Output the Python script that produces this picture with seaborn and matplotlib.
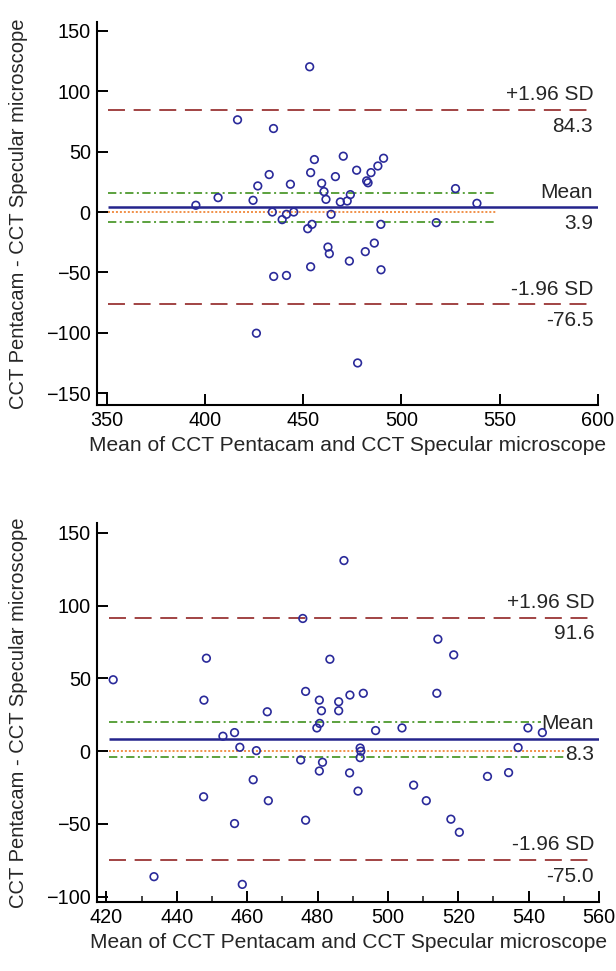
import matplotlib
matplotlib.use("Agg")
import matplotlib.pyplot as plt
import seaborn as sns
import numpy as np
import pandas as pd
from matplotlib.ticker import MultipleLocator

# ---------------- data ----------------
top_mean = [453.3, 416.6, 434.9, 455.7, 470.4, 453.8, 432.7, 466.4, 459.4, 443.5,
            426.9, 460.6, 406.7, 424.5, 461.6, 395.4, 468.9, 472.4, 477.2, 490.9,
            488.0, 484.5, 482.3, 483.0, 474.0, 527.5, 538.4, 434.3, 441.5, 445.2,
            439.3, 464.2, 452.3, 454.5, 489.5, 517.7, 462.6, 463.3, 473.5, 481.6,
            486.2, 489.6, 453.8, 435.0, 441.5, 426.2, 477.7]
top_diff = [120.2, 76.3, 69.1, 43.4, 46.2, 32.6, 31.0, 29.3, 23.8, 23.0,
            21.6, 16.9, 11.9, 9.7, 10.5, 5.6, 8.3, 9.1, 34.6, 44.5,
            38.1, 32.6, 25.8, 24.2, 14.4, 19.4, 7.2, 0.0, -1.9, 0.0,
            -6.3, -1.9, -13.8, -10.2, -10.2, -8.8, -29.0, -34.5, -40.6, -32.8,
            -25.7, -47.8, -45.3, -53.3, -52.5, -100.3, -124.9]

bot_mean = [487.5, 475.8, 448.4, 483.5, 421.9, 447.7, 476.6, 480.5, 486.0, 465.7,
            481.1, 486.0, 489.2, 514.2, 518.7, 513.9, 493.0, 480.6, 479.8, 453.1,
            456.4, 457.9, 462.6, 475.2, 480.5, 481.4, 489.1, 461.7, 447.6, 466.0,
            456.4, 476.6, 433.5, 458.6, 496.5, 504.0, 539.8, 543.9, 537.0, 492.1,
            492.3, 492.1, 491.5, 507.3, 510.9, 528.3, 534.3, 517.9, 520.3]
bot_diff = [130.9, 91.1, 63.8, 63.1, 49.0, 35.0, 41.0, 35.0, 33.9, 27.0,
            27.7, 27.7, 38.5, 76.9, 66.1, 39.7, 39.7, 19.0, 15.9, 10.2,
            12.7, 2.6, 0.3, -6.1, -13.7, -7.7, -15.0, -19.7, -31.4, -34.1,
            -49.8, -47.5, -86.3, -91.6, 14.1, 15.9, 15.9, 12.7, 2.4, 2.1,
            -0.1, -4.5, -27.5, -23.4, -34.1, -17.4, -14.8, -46.8, -55.8]

# statistics: mean, +1.96 SD, -1.96 SD, CI of mean (high, low)
top_stats = {"mean": 3.9, "upper": 84.3, "lower": -76.5, "ci_hi": 16.1, "ci_lo": -8.3}
bot_stats = {"mean": 8.3, "upper": 91.6, "lower": -75.0, "ci_hi": 19.9, "ci_lo": -4.3}

top_xticks = [350, 400, 450, 500, 550, 600]
top_yticks = [150, 100, 50, 0, -50, -100, -150]
bot_xticks = [420, 440, 460, 480, 500, 520, 540, 560]
bot_yticks = [150, 100, 50, 0, -50, -100]

xlabel = "Mean of CCT Pentacam and CCT Specular microscope"
ylabel = "CCT Pentacam - CCT Specular microscope"

# ---------------- style ----------------
sns.set_theme(style="ticks")
plt.rcParams["font.family"] = ["Liberation Sans", "DejaVu Sans"]

PT_COL = "#2a2a9a"
MEAN_COL = "#24248c"
RED = "#9a3535"
GREEN = "#4e9a2e"
ORANGE = "#f0883a"

fig = plt.figure(figsize=(6.16, 9.71), dpi=100)
W, H = 616.0, 971.0
ax1 = fig.add_axes([97 / W, (H - 405) / H, (598 - 97) / W, (405 - 21.7) / H])
ax2 = fig.add_axes([97 / W, (H - 902) / H, (599 - 97) / W, (902 - 523.3) / H])


def draw(ax, mx, dy, st, xlim, ylim, xticks, yticks, red_rng, ci_rng, minor=None):
    df = pd.DataFrame({"m": mx, "d": dy})
    x0, x1 = xlim
    ax.hlines(st["upper"], red_rng[0], red_rng[1], colors=RED, linestyles=(0, (9.4, 4.8)), lw=1.3, zorder=3)
    ax.hlines(st["lower"], red_rng[0], red_rng[1], colors=RED, linestyles=(0, (9.4, 4.8)), lw=1.3, zorder=3)
    ax.hlines(0, ci_rng[0], ci_rng[1], colors=ORANGE, linestyles=(0, (1.1, 1.1)), lw=1.3, zorder=2)
    ax.hlines([st["ci_hi"], st["ci_lo"]], ci_rng[0], ci_rng[2], colors=GREEN,
              linestyles=(0, (4.6, 1.9, 1.1, 1.9)), lw=1.3, zorder=2)
    ax.hlines(st["mean"], ci_rng[0], x1, colors=MEAN_COL, lw=1.8, zorder=4)
    sns.scatterplot(data=df, x="m", y="d", ax=ax, marker="o", s=30,
                    facecolor="none", edgecolor=PT_COL, linewidth=1.2, zorder=5)
    ax.set_xlim(*xlim)
    ax.set_ylim(*ylim)
    ax.set_xticks(xticks)
    ax.set_yticks(yticks)
    if minor:
        ax.xaxis.set_minor_locator(MultipleLocator(minor))
    ax.tick_params(axis="both", which="major", direction="in", length=8, width=1.4,
                   labelsize=14.3, pad=4.5, colors="black")
    ax.tick_params(axis="x", which="minor", direction="in", length=4, width=1.2)
    for s in ["top", "right"]:
        ax.spines[s].set_visible(False)
    for s in ["left", "bottom"]:
        ax.spines[s].set_linewidth(1.5)
        ax.spines[s].set_color("black")
    ax.set_xlabel(xlabel, fontsize=15.1, labelpad=4)
    ax.set_ylabel(ylabel, fontsize=14.5, labelpad=13)
    bb = dict(facecolor="white", edgecolor="none", pad=0.5)
    def lab(y, top, bottom):
        ax.annotate(top, xy=(1, y), xycoords=("axes fraction", "data"), xytext=(-3.5, 11),
                    textcoords="offset points", ha="right", va="center", fontsize=15, bbox=bb, zorder=3.5)
        ax.annotate(bottom, xy=(1, y), xycoords=("axes fraction", "data"), xytext=(-3.5, -11.5),
                    textcoords="offset points", ha="right", va="center", fontsize=15, bbox=bb, zorder=3.5)
    lab(st["upper"], "+1.96 SD", f"{st['upper']:.1f}")
    lab(st["mean"], "Mean", f"{st['mean']:.1f}")
    lab(st["lower"], "-1.96 SD", f"{st['lower']:.1f}")


draw(ax1, top_mean, top_diff, top_stats, (345.1, 600), (-159.7, 157.5),
     top_xticks, top_yticks, red_rng=(350.5, 597), ci_rng=(350.5, 548, 548))
draw(ax2, bot_mean, bot_diff, bot_stats, (417.3, 560), (-103.7, 156.5),
     bot_xticks, bot_yticks, red_rng=(420.8, 557.5), ci_rng=(420.8, 551, 551), minor=10)

fig.savefig("out.png", dpi=100)
